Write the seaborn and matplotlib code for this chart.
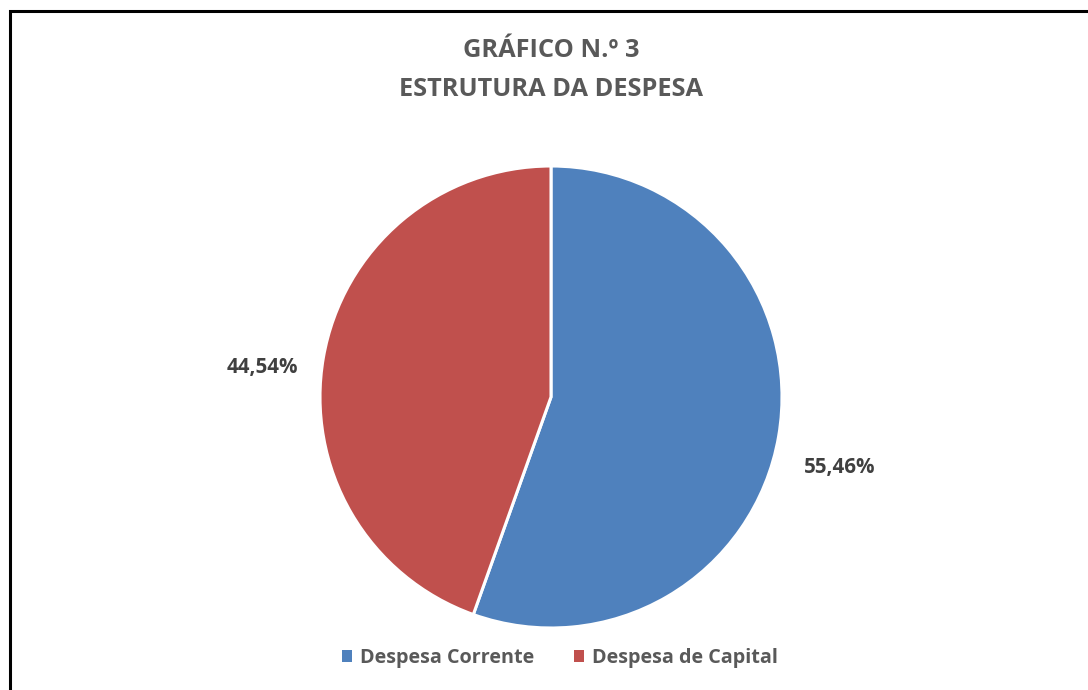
import matplotlib
matplotlib.use("Agg")
import matplotlib.pyplot as plt
import seaborn as sns
from matplotlib.patches import Rectangle

# %% Data
categorias = ["Despesa Corrente", "Despesa de Capital"]
percentagens = [55.46, 44.54]
cores = ["#4F81BD", "#C0504D"]
titulo = "GRÁFICO N.º 3\nESTRUTURA DA DESPESA"

# %% Style
sns.set_theme(style="white")
plt.rcParams["font.family"] = ["Open Sans", "DejaVu Sans"]

fig = plt.figure(figsize=(10.88, 6.9), dpi=100)
fig.patch.set_facecolor("white")

# frame (cropped at right and bottom like the original)
fig.patches.append(Rectangle((10 / 1088, -0.1), 1.2, 1.1 - 11 / 690,
                             transform=fig.transFigure, fill=False,
                             edgecolor="black", linewidth=2.2))

ax = fig.add_axes([(551 - 231) / 1088, (690 - 628) / 690, 462 / 1088, 462 / 690])
wedges, textos, pcts = ax.pie(
    percentagens,
    colors=cores,
    startangle=90,
    counterclock=False,
    autopct=lambda p: f"{p:.2f}%".replace(".", ","),
    pctdistance=1.27,
    wedgeprops=dict(edgecolor="white", linewidth=2.2),
    textprops=dict(fontsize=14.8, fontweight="bold", color="#404040"),
)
# Excel's best-fit labels sit a little lower than the wedge bisector
for t in pcts:
    x, y = t.get_position()
    t.set_position((x, y - 0.09))
ax.set_xlim(-1, 1)
ax.set_ylim(-1, 1)
ax.set_aspect("equal")
ax.axis("off")

fig.text(551 / 1088, 1 - 70 / 690, titulo, ha="center", va="center",
         fontsize=18.3, fontweight="bold", color="#595959", linespacing=1.72)

leg = fig.legend(wedges, categorias, loc="center", bbox_to_anchor=(560 / 1088, 1 - 658 / 690),
                 ncol=2, frameon=False, handlelength=0.5, handleheight=0.5,
                 handletextpad=0.4, columnspacing=2.0,
                 prop=dict(size=14.2, weight="bold"))
for t in leg.get_texts():
    t.set_color("#595959")
for h in leg.legend_handles:
    h.set_edgecolor("none")

fig.savefig("out.png", dpi=100, facecolor="white")
